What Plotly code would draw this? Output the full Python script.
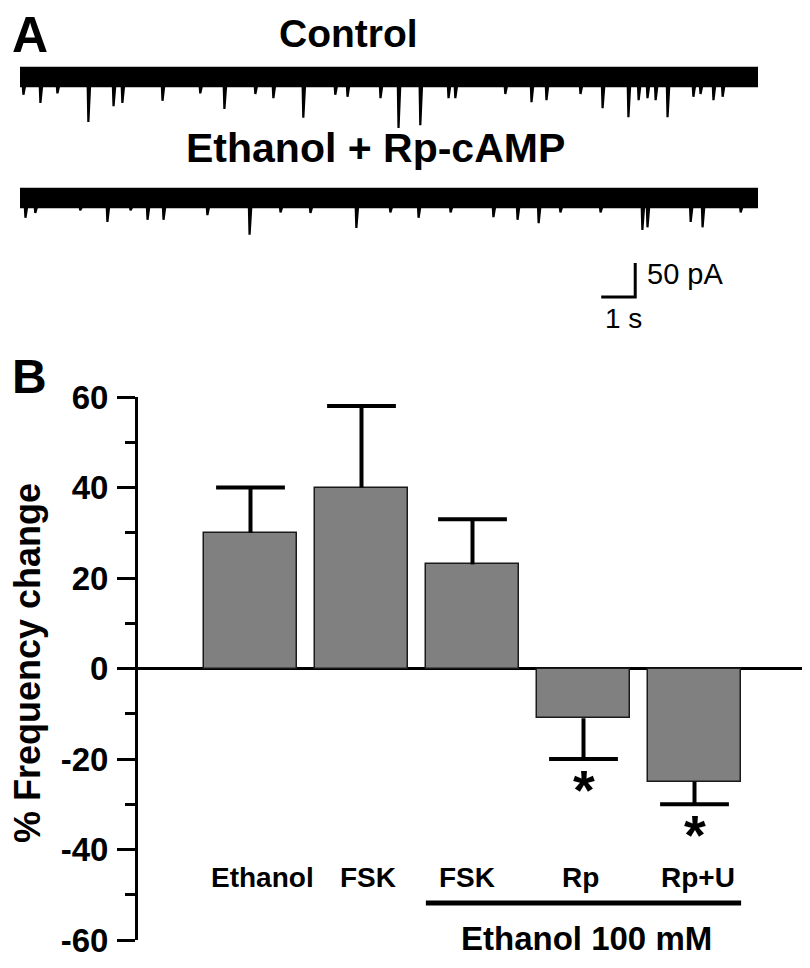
import plotly.graph_objects as go

W, H = 810, 968
PAGE_OFFSET = 8  # browser body margin compensation (px)
FONT = "Liberation Sans, Arial, Helvetica, sans-serif"

# ---------------- Panel B data ----------------
categories = ["Ethanol", "FSK", "FSK", "Rp", "Rp+U"]
freq_change = [30, 40, 23, -11, -25]
sem = [10, 18, 10, 9, 5]
significant = [False, False, False, True, True]
group_label = "Ethanol 100 mM"
group_members = [2, 3, 4]
y_ticks = [-60, -40, -20, 0, 20, 40, 60]
y_tick_text = ["-60", "-40", "-20", "0", "20", "40", "60"]

# ---------------- Panel A data (events) ----------------
trace_titles = ["Control", "Ethanol + Rp-cAMP"]
trace_duration_s = 21.7
control_event_t = [0.09, 0.59, 1.09, 2.0, 2.74, 3.0, 4.18, 5.29, 6.0, 6.91, 7.44, 8.32,
                   9.26, 9.62, 10.59, 11.12, 11.76, 12.59, 12.79, 14.26, 15.03, 15.47,
                   16.47, 17.12, 17.88, 18.18, 18.44, 18.68, 19.03, 19.79, 20.0, 20.38, 20.65]
control_event_pA = [26, 38, 24, 66, 43, 38, 35, 24, 47, 25, 31, 60,
                    26, 29, 31, 75, 71, 31, 31, 25, 37, 34,
                    25, 46, 59, 34, 31, 34, 59, 29, 25, 34, 29]
rp_event_t = [0.15, 0.44, 1.76, 2.56, 3.24, 3.74, 4.21, 5.5, 6.74, 7.65, 8.53, 9.88,
              10.88, 11.71, 12.65, 13.91, 14.62, 15.24, 15.88, 17.06, 18.29, 18.44,
              19.71, 20.06, 21.18]
rp_event_pA = [29, 22, 18, 35, 18, 32, 32, 25, 54, 21, 22, 44,
               21, 29, 21, 28, 32, 37, 21, 21, 47, 43,
               35, 43, 21]
control_noise_pA = 15
rp_noise_pA = 15
scale_bar_s = 1
scale_bar_pA = 50


def px(x):
    return (x - PAGE_OFFSET) / W


def py(y):
    return 1 - (y - PAGE_OFFSET) / H


fig = go.Figure()

# ---------- Panel B: bars ----------
xs = list(range(len(categories)))
fig.add_trace(go.Bar(
    x=xs, y=freq_change, width=0.838,
    marker=dict(color="#808080", line=dict(color="#1a1a1a", width=1.5)),
    xaxis="x", yaxis="y", showlegend=False, hoverinfo="skip"))

# error bars (one-sided, away from zero)
ex, ey = [], []
cap = 0.31
for i, (v, e) in enumerate(zip(freq_change, sem)):
    end = v + e if v >= 0 else v - e
    ex += [i, i, None, i - cap, i + cap, None]
    ey += [v, end, None, end, end, None]
fig.add_trace(go.Scatter(x=ex, y=ey, mode="lines",
                         line=dict(color="black", width=4),
                         xaxis="x", yaxis="y", showlegend=False, hoverinfo="skip"))

# ---------- Panel A: traces ----------
offsets = [0, -178]
for events_t, events_a, off, noise in [
        (control_event_t, control_event_pA, offsets[0], control_noise_pA),
        (rp_event_t, rp_event_pA, offsets[1], rp_noise_pA)]:
    fig.add_trace(go.Scatter(
        x=[0, trace_duration_s, trace_duration_s, 0, 0],
        y=[off + noise, off + noise, off - noise, off - noise, off + noise],
        fill="toself", fillcolor="black", mode="lines", line=dict(width=0, color="black"),
        xaxis="x2", yaxis="y2", showlegend=False, hoverinfo="skip"))
    sx, sy = [], []
    for t, a in zip(events_t, events_a):
        sx += [t - 0.01, t + 0.01, t + 0.06, None]
        sy += [off - noise + 4, off - a, off - noise + 2, None]
    fig.add_trace(go.Scatter(x=sx, y=sy, mode="lines",
                             line=dict(color="black", width=2.2),
                             xaxis="x2", yaxis="y2", showlegend=False, hoverinfo="skip"))

# scale bar
corner_t, corner_y = 18.09, -323.5
fig.add_trace(go.Scatter(
    x=[corner_t - scale_bar_s, corner_t, corner_t],
    y=[corner_y, corner_y, corner_y + scale_bar_pA],
    mode="lines", line=dict(color="black", width=3),
    xaxis="x2", yaxis="y2", showlegend=False, hoverinfo="skip"))

ann = []


def text(x, y, s, size, bold=True, **kw):
    d = dict(x=px(x), y=py(y), xref="paper", yref="paper", text=s, showarrow=False,
             xanchor="center", yanchor="middle",
             font=dict(family=FONT, size=size, color="black",
                       weight="bold" if bold else "normal"))
    d.update(kw)
    ann.append(d)


text(30, 35, "A", 50)
text(29, 376, "B", 48)
text(348, 34, trace_titles[0], 39)
text(375, 148, trace_titles[1], 41)
text(645, 274, f"{scale_bar_pA} pA", 29, bold=False, xanchor="left")
text(623, 318, f"{scale_bar_s} s", 28, bold=False)
text(27, 663, "% Frequency change", 36, textangle=-90)

# category labels
label_shift = [12, 6, -6, -3, 3]
for i, (c, s) in enumerate(zip(categories, label_shift)):
    ann.append(dict(x=i, y=py(877), xref="x", yref="paper", text=c, showarrow=False,
                    xanchor="center", yanchor="middle", xshift=s,
                    font=dict(family=FONT, size=28, color="black", weight="bold")))

# significance asterisks
for i, (v, e, sig) in enumerate(zip(freq_change, sem, significant)):
    if sig:
        ann.append(dict(x=i, y=v - e, xref="x", yref="y", text="*", showarrow=False,
                        xanchor="center", yanchor="middle", yshift=-30,
                        font=dict(family=FONT, size=56, color="black", weight="bold")))

# group label
gx0, gx1 = min(group_members) - 0.42, max(group_members) + 0.42
text(586, 938, group_label, 33)

fig.update_layout(
    template="none",
    width=W, height=H, margin=dict(l=0, r=0, t=0, b=0, pad=0, autoexpand=False),
    paper_bgcolor="white", plot_bgcolor="rgba(0,0,0,0)",
    annotations=ann,
    shapes=[dict(type="line", xref="x", yref="paper", x0=gx0, x1=gx1,
                 y0=py(903), y1=py(903), line=dict(color="black", width=5))],
    bargap=0,
    xaxis=dict(domain=[px(138), px(808)], range=[-1.0135, 5.0225], visible=False,
               anchor="y", automargin=False),
    yaxis=dict(domain=[py(940), py(397)], range=[-60, 60], anchor="x", automargin=False,
               tickvals=y_ticks, ticktext=y_tick_text, ticks="outside", ticklen=18,
               tickwidth=3, ticklabelstandoff=2,
               tickcolor="black", showline=True, linewidth=3, linecolor="black",
               showgrid=False, zeroline=True, zerolinewidth=3, zerolinecolor="black",
               minor=dict(dtick=10, ticks="outside", ticklen=10, tickwidth=3,
                          tickcolor="black", showgrid=False),
               tickfont=dict(family=FONT, size=33, color="black", weight="bold")),
    xaxis2=dict(domain=[px(20), px(758)], range=[0, trace_duration_s], visible=False,
                anchor="y2", automargin=False),
    yaxis2=dict(domain=[py(310), py(40)], range=[-342.6, 54.4], visible=False,
                anchor="x2", automargin=False),
)

fig.write_html("out.html")
